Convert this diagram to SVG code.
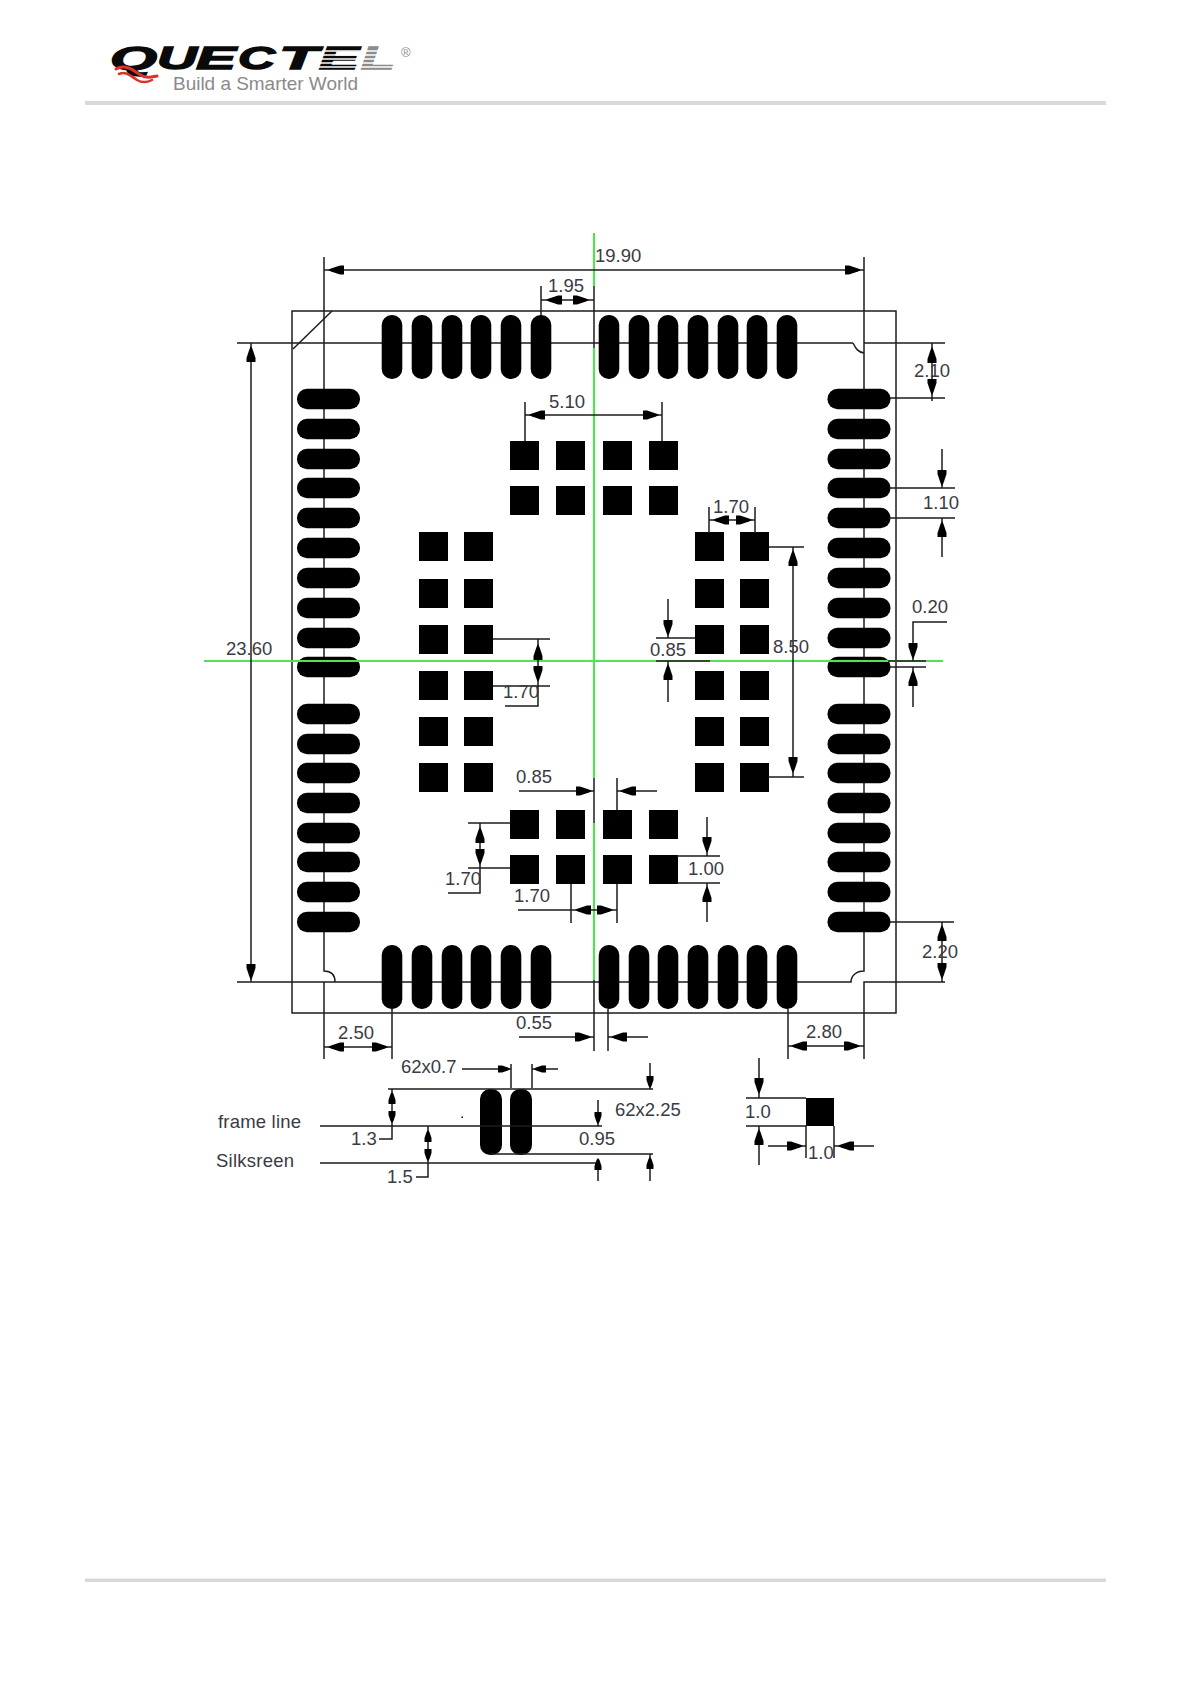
<svg xmlns="http://www.w3.org/2000/svg" xmlns:xlink="http://www.w3.org/1999/xlink" width="1191" height="1684" viewBox="0 0 1191 1684">
<style>
.l{fill:none;stroke:#1c1c1c;stroke-width:1.5}
.g{fill:none;stroke:#55e055;stroke-width:2.2}
.k{fill:#000}
.t{font-family:"Liberation Sans",Arial,sans-serif;font-size:18.5px;fill:#3a3a44}
.q{font-family:"Liberation Sans",Arial,sans-serif;font-size:31px;font-weight:bold;font-style:italic;fill:#0a0a0a;stroke:#0a0a0a;stroke-width:1.300}
.s{fill:none;stroke:#d8322a;stroke-linecap:round}
</style>
<defs>
<rect id="pv" x="-10.300" y="-32" width="20.600" height="64" rx="10"/>
<rect id="ph" x="-31.500" y="-10.300" width="63" height="20.600" rx="10"/>
<rect id="sq" width="29" height="29"/>
<path id="a" d="M0 0L3-1.500L12-4.500H16V4.500H12L3 1.500Z"/>
<path id="b" d="M0 0L2-1.500L8-3.500H12V3.500H8L2 1.500Z"/>
</defs>
<rect width="1191" height="1684" fill="#fff"/>

<g id="header">
<rect x="85" y="101" width="1021" height="4" fill="#d9d9d9"/>
<g id="logo">
<text class="q" x="110" y="69" textLength="47" lengthAdjust="spacingAndGlyphs">Q</text>
<text class="q" x="157" y="69" textLength="40" lengthAdjust="spacingAndGlyphs">U</text>
<text class="q" x="196" y="69" textLength="40" lengthAdjust="spacingAndGlyphs">E</text>
<text class="q" x="238" y="69" textLength="37" lengthAdjust="spacingAndGlyphs">C</text>
<text class="q" x="279" y="69" textLength="39" lengthAdjust="spacingAndGlyphs">T</text>
<text class="q" x="319" y="69" textLength="40" lengthAdjust="spacingAndGlyphs">E</text>
<text class="q" x="361" y="69" textLength="34" lengthAdjust="spacingAndGlyphs" style="fill:#8c8c8c;stroke:#8c8c8c">L</text>
<path d="M322 51H362M321 55H360M320 59H358M319 63H356M318 67H356M364 51H394M362 55H392M360 59H394M358 63H394M356 67H396" fill="none" stroke="#fff" stroke-width="1.300"/>
<path class="s" stroke-width="3" d="M116 69C124 64 132 69 139 74C146 79 152 77 157 76"/>
<path class="s" stroke-width="2.500" d="M119 74C126 71 131 76 137 80C142 83 148 82 152 80"/>
<text x="173" y="90" font-family="'Liberation Sans',Arial,sans-serif" font-size="18.5" fill="#8a8a8a" textLength="185" lengthAdjust="spacingAndGlyphs">Build a Smarter World</text>
<text x="401" y="57" font-family="'Liberation Sans',Arial,sans-serif" font-size="13" fill="#8a8a8a">®</text>
</g>
</g>
<rect id="footer" x="85" y="1578.500" width="1021" height="3.500" fill="#d9d9d9"/>

<g id="outline">
<rect class="l" x="292" y="311" width="604" height="702"/>
<path class="l" d="M332 311L293 349"/>
<path class="l" d="M237 343H853M864 343H945"/>
<path class="l" d="M324 257V971C332 971 335 975 335 982M237 982H851C851 976 856 971 864 971V257"/>
<path class="l" d="M853 343C856 349 858 352 864 353"/>
<path class="l" d="M945 982H864V1059M324 982V1059"/>
</g>

<g id="pads-top" class="k">
<use href="#pv" x="392" y="347"/><use href="#pv" x="422" y="347"/><use href="#pv" x="452" y="347"/><use href="#pv" x="481" y="347"/><use href="#pv" x="511" y="347"/><use href="#pv" x="541" y="347"/>
<use href="#pv" x="609" y="347"/><use href="#pv" x="639" y="347"/><use href="#pv" x="668" y="347"/><use href="#pv" x="698" y="347"/><use href="#pv" x="728" y="347"/><use href="#pv" x="757" y="347"/><use href="#pv" x="787" y="347"/>
</g>
<g id="pads-bottom" class="k">
<use href="#pv" x="392" y="977"/><use href="#pv" x="422" y="977"/><use href="#pv" x="452" y="977"/><use href="#pv" x="481" y="977"/><use href="#pv" x="511" y="977"/><use href="#pv" x="541" y="977"/>
<use href="#pv" x="609" y="977"/><use href="#pv" x="639" y="977"/><use href="#pv" x="668" y="977"/><use href="#pv" x="698" y="977"/><use href="#pv" x="728" y="977"/><use href="#pv" x="757" y="977"/><use href="#pv" x="787" y="977"/>
</g>
<g id="pads-left" class="k">
<use href="#ph" x="328.500" y="399"/><use href="#ph" x="328.500" y="429"/><use href="#ph" x="328.500" y="459"/><use href="#ph" x="328.500" y="488"/><use href="#ph" x="328.500" y="518"/><use href="#ph" x="328.500" y="548"/><use href="#ph" x="328.500" y="578"/><use href="#ph" x="328.500" y="608"/><use href="#ph" x="328.500" y="638"/><use href="#ph" x="328.500" y="667"/>
<use href="#ph" x="328.500" y="714"/><use href="#ph" x="328.500" y="744"/><use href="#ph" x="328.500" y="773"/><use href="#ph" x="328.500" y="803"/><use href="#ph" x="328.500" y="833"/><use href="#ph" x="328.500" y="862"/><use href="#ph" x="328.500" y="892"/><use href="#ph" x="328.500" y="922"/>
</g>
<g id="pads-right" class="k">
<use href="#ph" x="859" y="399"/><use href="#ph" x="859" y="429"/><use href="#ph" x="859" y="459"/><use href="#ph" x="859" y="488"/><use href="#ph" x="859" y="518"/><use href="#ph" x="859" y="548"/><use href="#ph" x="859" y="578"/><use href="#ph" x="859" y="608"/><use href="#ph" x="859" y="638"/><use href="#ph" x="859" y="667"/>
<use href="#ph" x="859" y="714"/><use href="#ph" x="859" y="744"/><use href="#ph" x="859" y="773"/><use href="#ph" x="859" y="803"/><use href="#ph" x="859" y="833"/><use href="#ph" x="859" y="862"/><use href="#ph" x="859" y="892"/><use href="#ph" x="859" y="922"/>
</g>
<g id="squares-top" class="k">
<use href="#sq" x="510" y="441"/><use href="#sq" x="556" y="441"/><use href="#sq" x="603" y="441"/><use href="#sq" x="649" y="441"/>
<use href="#sq" x="510" y="486"/><use href="#sq" x="556" y="486"/><use href="#sq" x="603" y="486"/><use href="#sq" x="649" y="486"/>
</g>
<g id="squares-bottom" class="k">
<use href="#sq" x="510" y="810"/><use href="#sq" x="556" y="810"/><use href="#sq" x="603" y="810"/><use href="#sq" x="649" y="810"/>
<use href="#sq" x="510" y="855"/><use href="#sq" x="556" y="855"/><use href="#sq" x="603" y="855"/><use href="#sq" x="649" y="855"/>
</g>
<g id="squares-left" class="k">
<use href="#sq" x="419" y="532"/><use href="#sq" x="464" y="532"/><use href="#sq" x="419" y="579"/><use href="#sq" x="464" y="579"/><use href="#sq" x="419" y="625"/><use href="#sq" x="464" y="625"/><use href="#sq" x="419" y="671"/><use href="#sq" x="464" y="671"/><use href="#sq" x="419" y="717"/><use href="#sq" x="464" y="717"/><use href="#sq" x="419" y="763"/><use href="#sq" x="464" y="763"/>
</g>
<g id="squares-right" class="k">
<use href="#sq" x="695" y="532"/><use href="#sq" x="740" y="532"/><use href="#sq" x="695" y="579"/><use href="#sq" x="740" y="579"/><use href="#sq" x="695" y="625"/><use href="#sq" x="740" y="625"/><use href="#sq" x="695" y="671"/><use href="#sq" x="740" y="671"/><use href="#sq" x="695" y="717"/><use href="#sq" x="740" y="717"/><use href="#sq" x="695" y="763"/><use href="#sq" x="740" y="763"/>
</g>
<g id="detail-pads" class="k">
<rect x="480" y="1089" width="22" height="66" rx="10"/>
<rect x="510" y="1089" width="22" height="66" rx="10"/>
<rect x="806" y="1098" width="28" height="28"/>
<rect x="461.500" y="1116.500" width="1.500" height="1.500"/>
</g>

<g id="centre-lines">
<path class="g" d="M594 233V286M594 348V778M594 823V980"/>
<path class="g" d="M204 661H943"/>
</g>

<g id="connectors">
<path class="l" d="M324 270H864"/><use class="k" href="#a" transform="translate(328 270)"/><use class="k" href="#a" transform="translate(861 270) rotate(180)"/>
<path class="l" d="M541 286V315M594 286V348M541 300H594"/><use class="k" href="#a" transform="translate(546 300)"/><use class="k" href="#a" transform="translate(589 300) rotate(180)"/>
<path class="l" d="M525 402V441M662 402V441M525 415H662"/><use class="k" href="#a" transform="translate(529 415)"/><use class="k" href="#a" transform="translate(659 415) rotate(180)"/>
<path class="l" d="M932 343V401M890 398H945"/><use class="k" href="#a" transform="translate(932 347) rotate(90)"/><use class="k" href="#a" transform="translate(932 395) rotate(-90)"/>
<path class="l" d="M942 449V488M889 488H955M889 518H955M942 518V557"/><use class="k" href="#a" transform="translate(942 486) rotate(-90)"/><use class="k" href="#a" transform="translate(942 521) rotate(90)"/>
<path class="l" d="M709 507V533M755 507V533M709 520H755"/><use class="k" href="#a" transform="translate(713 520)"/><use class="k" href="#a" transform="translate(752 520) rotate(180)"/>
<path class="l" d="M769 547H804M793 547V777M768 777H804"/><use class="k" href="#a" transform="translate(793 550) rotate(90)"/><use class="k" href="#a" transform="translate(793 773) rotate(-90)"/>
<path class="l" d="M668 599V638M656 638H695M656 661H710M668 661V702"/><use class="k" href="#a" transform="translate(668 636) rotate(-90)"/><use class="k" href="#a" transform="translate(668 664) rotate(90)"/>
<path class="l" d="M947 622H913V661M888 661H926M890 667H926M913 667V707"/><use class="k" href="#a" transform="translate(913 659) rotate(-90)"/><use class="k" href="#a" transform="translate(913 670) rotate(90)"/>
<path class="l" d="M251 343V982"/><use class="k" href="#a" transform="translate(251 346) rotate(90)"/><use class="k" href="#a" transform="translate(251 980) rotate(-90)"/>
<path class="l" d="M493 639H550M493 686H550M538 639V706H505"/><use class="k" href="#a" transform="translate(538 644) rotate(90)"/><use class="k" href="#a" transform="translate(538 682) rotate(-90)"/>
<path class="l" d="M519 791H594M594 778V823M617 778V810M617 791H657"/><use class="k" href="#a" transform="translate(592 791) rotate(180)"/><use class="k" href="#a" transform="translate(620 791)"/>
<path class="l" d="M468 823H510M468 868H510M480 823V893H448"/><use class="k" href="#a" transform="translate(480 827) rotate(90)"/><use class="k" href="#a" transform="translate(480 865) rotate(-90)"/>
<path class="l" d="M518 910H617M571 884V923M617 884V923"/><use class="k" href="#a" transform="translate(575 910)"/><use class="k" href="#a" transform="translate(613 910) rotate(180)"/>
<path class="l" d="M707 817V856M677 856H720M677 883H720M707 883V922"/><use class="k" href="#a" transform="translate(707 853) rotate(-90)"/><use class="k" href="#a" transform="translate(707 886) rotate(90)"/>
<path class="l" d="M890 922H954M942 922V982"/><use class="k" href="#a" transform="translate(942 925) rotate(90)"/><use class="k" href="#a" transform="translate(942 979) rotate(-90)"/>
<path class="l" d="M788 1009V1059M788 1046H864"/><use class="k" href="#a" transform="translate(791 1046)"/><use class="k" href="#a" transform="translate(860 1046) rotate(180)"/>
<path class="l" d="M392 1009V1059M324 1047H392"/><use class="k" href="#a" transform="translate(328 1047)"/><use class="k" href="#a" transform="translate(388 1047) rotate(180)"/>
<path class="l" d="M594 980V1051M608 1009V1051M519 1037H594M608 1037H648"/><use class="k" href="#a" transform="translate(591 1037) rotate(180)"/><use class="k" href="#a" transform="translate(611 1037)"/>

<path class="l" d="M462 1069H511M511 1064V1088M532 1064V1088M532 1069H558"/><use class="k" href="#b" transform="translate(510 1069) rotate(180)"/><use class="k" href="#b" transform="translate(534 1069)"/>
<path class="l" d="M388 1089H653M320 1126H602M490 1154H653M320 1163H598"/>
<path class="l" d="M650 1063V1089M650 1154V1181"/><use class="k" href="#b" transform="translate(650 1088) rotate(-90)"/><use class="k" href="#b" transform="translate(650 1157) rotate(90)"/>
<path class="l" d="M598 1100V1126M598 1163V1181"/><use class="k" href="#b" transform="translate(598 1124) rotate(-90)"/><use class="k" href="#b" transform="translate(598 1158) rotate(90)"/>
<path class="l" d="M392 1089V1139H379"/><use class="k" href="#b" transform="translate(392 1092) rotate(90)"/><use class="k" href="#b" transform="translate(392 1123) rotate(-90)"/>
<path class="l" d="M428 1126V1177H416"/><use class="k" href="#b" transform="translate(428 1130) rotate(90)"/><use class="k" href="#b" transform="translate(428 1161) rotate(-90)"/>

<path class="l" d="M746 1098H806M746 1126H806M759 1058V1098M759 1126V1165M806 1126V1158M834 1126V1158M768 1146H806M834 1146H874"/>
<use class="k" href="#a" transform="translate(759 1094) rotate(-90)"/><use class="k" href="#a" transform="translate(759 1129) rotate(90)"/><use class="k" href="#a" transform="translate(803 1146) rotate(180)"/><use class="k" href="#a" transform="translate(838 1146)"/>
</g>

<path d="M830 661H857" class="g"/>

<g id="labels">
<text class="t" x="595" y="262">19.90</text>
<text class="t" x="548" y="292">1.95</text>
<text class="t" x="549" y="408">5.10</text>
<text class="t" x="914" y="377">2.10</text>
<text class="t" x="923" y="509">1.10</text>
<text class="t" x="713" y="513">1.70</text>
<text class="t" x="773" y="653">8.50</text>
<text class="t" x="650" y="656">0.85</text>
<text class="t" x="912" y="613">0.20</text>
<text class="t" x="226" y="655">23.60</text>
<text class="t" x="503" y="698">1.70</text>
<text class="t" x="516" y="783">0.85</text>
<text class="t" x="445" y="885">1.70</text>
<text class="t" x="514" y="902">1.70</text>
<text class="t" x="688" y="875">1.00</text>
<text class="t" x="922" y="958">2.20</text>
<text class="t" x="806" y="1038">2.80</text>
<text class="t" x="338" y="1039">2.50</text>
<text class="t" x="516" y="1029">0.55</text>
<text class="t" x="401" y="1073">62x0.7</text>
<text class="t" x="615" y="1116">62x2.25</text>
<text class="t" x="579" y="1145">0.95</text>
<text class="t" x="351" y="1145">1.3</text>
<text class="t" x="387" y="1183">1.5</text>
<text class="t" x="218" y="1128" textLength="83">frame line</text>
<text class="t" x="216" y="1167" textLength="78">Silksreen</text>
<text class="t" x="745" y="1118">1.0</text>
<text class="t" x="808" y="1159">1.0</text>
</g>
</svg>
